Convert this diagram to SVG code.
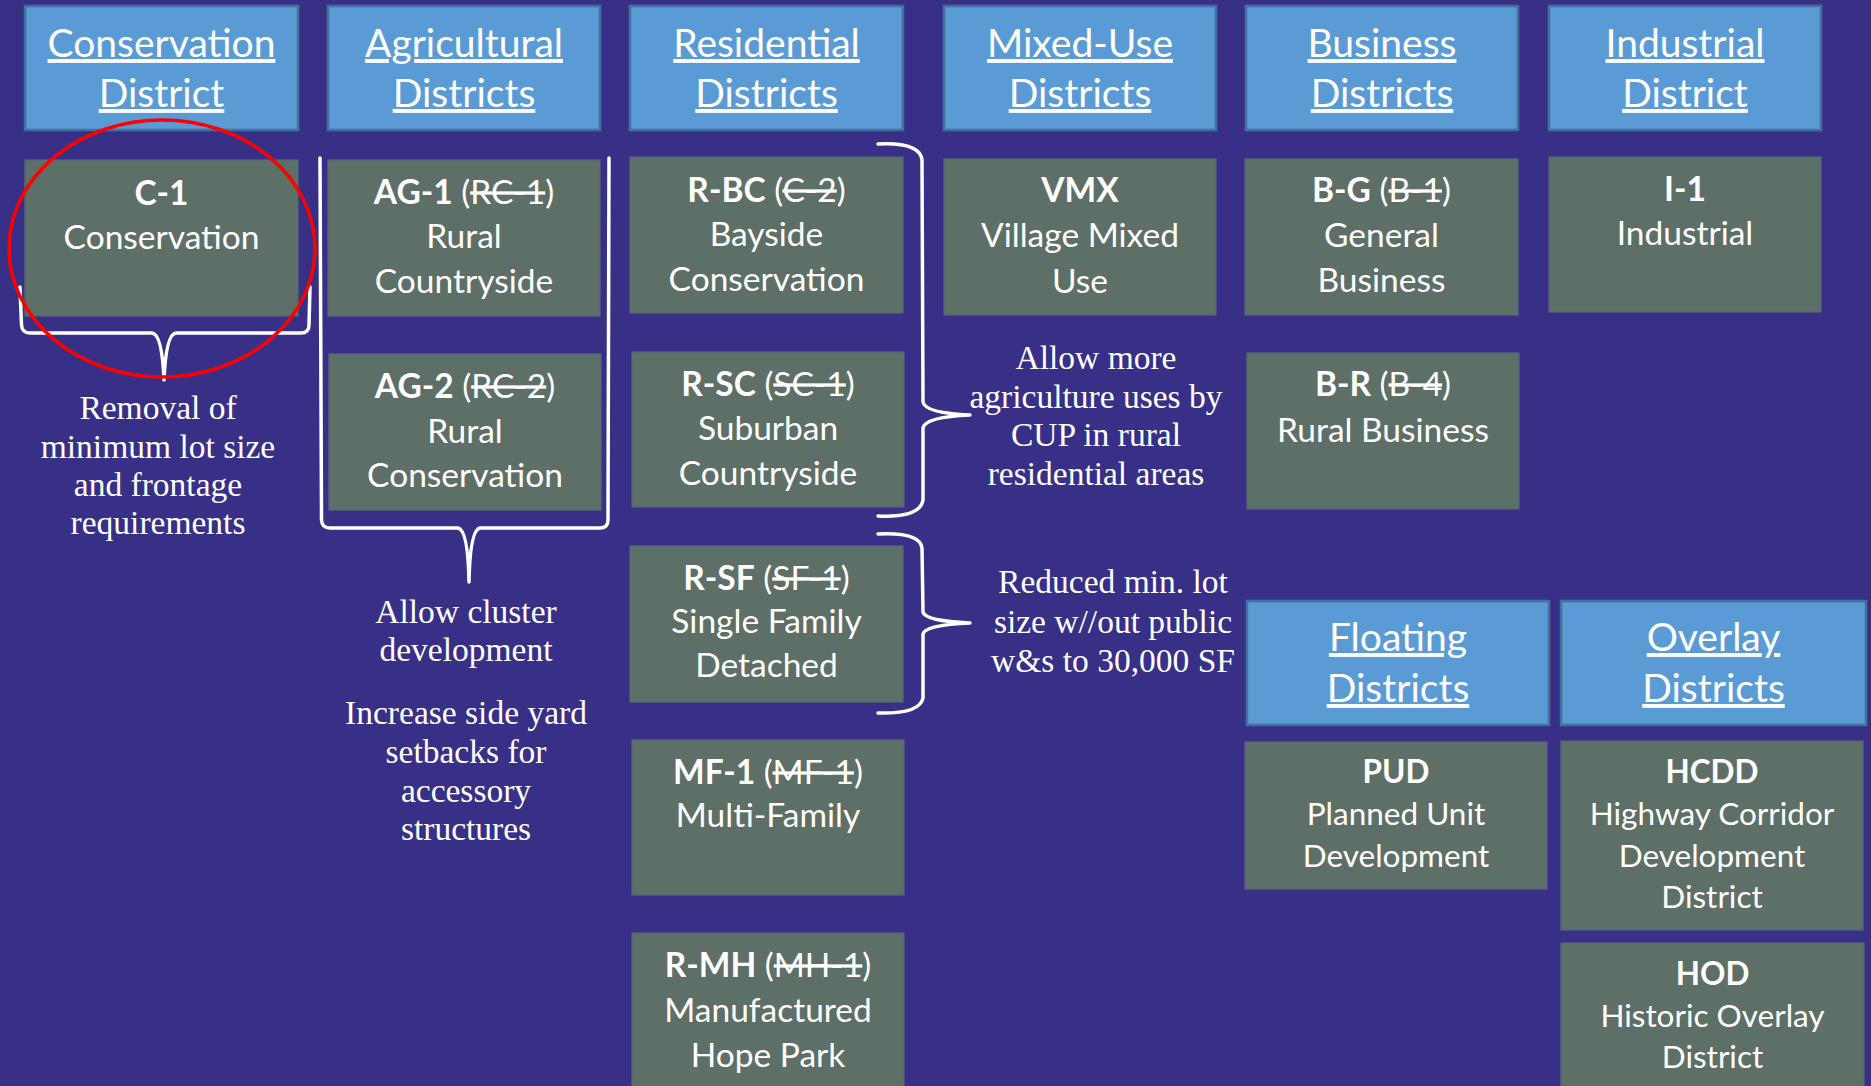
<svg xmlns="http://www.w3.org/2000/svg" width="1871" height="1086" viewBox="0 0 1871 1086">
<style>
.hdr{fill:#5B9BD5;stroke:#41719C;stroke-width:2.5}
.box{fill:#5E6F67;stroke:#56677a;stroke-width:1.2}
.ht{font-family:Lato,"Open Sans",sans-serif;font-size:39px;fill:#fff;text-anchor:middle;text-decoration:underline}
.nt{font-family:Lato,"Open Sans",sans-serif;font-size:33.5px;fill:#fff;text-anchor:middle}
.nt2{font-family:Lato,"Open Sans",sans-serif;font-size:31.5px;fill:#fff;text-anchor:middle}
.b{font-weight:bold}
.s{text-decoration:line-through}
.an{font-family:"Liberation Serif","Times New Roman",serif;font-size:33.5px;fill:#fff;text-anchor:middle}
.br{fill:none;stroke:#fff;stroke-width:3.5;stroke-linecap:round;stroke-linejoin:round}
</style>
<rect x="0" y="0" width="1871" height="1086" fill="#383087"/>

<g id="hdr-conservation"><rect class="hdr" x="25" y="6" width="273" height="124"/><text class="ht" x="161.5" y="57">Conservation</text><text class="ht" x="161.5" y="107">District</text></g>
<g id="hdr-agricultural"><rect class="hdr" x="328" y="6" width="272" height="124"/><text class="ht" x="464" y="57">Agricultural</text><text class="ht" x="464" y="107">Districts</text></g>
<g id="hdr-residential"><rect class="hdr" x="630" y="6" width="273" height="124"/><text class="ht" x="766.5" y="57">Residential</text><text class="ht" x="766.5" y="107">Districts</text></g>
<g id="hdr-mixeduse"><rect class="hdr" x="944" y="6" width="272" height="124"/><text class="ht" x="1080" y="57">Mixed-Use</text><text class="ht" x="1080" y="107">Districts</text></g>
<g id="hdr-business"><rect class="hdr" x="1246" y="6" width="272" height="124"/><text class="ht" x="1382" y="57">Business</text><text class="ht" x="1382" y="107">Districts</text></g>
<g id="hdr-industrial"><rect class="hdr" x="1549" y="6" width="272" height="124"/><text class="ht" x="1685" y="57">Industrial</text><text class="ht" x="1685" y="107">District</text></g>
<g id="hdr-floating"><rect class="hdr" x="1247" y="601" width="302" height="124"/><text class="ht" x="1398" y="651">Floating</text><text class="ht" x="1398" y="702">Districts</text></g>
<g id="hdr-overlay"><rect class="hdr" x="1561" y="601" width="305" height="124"/><text class="ht" x="1713.5" y="651">Overlay</text><text class="ht" x="1713.5" y="702">Districts</text></g>

<g id="node-c1"><rect class="box" x="25" y="160" width="273" height="156"/><text class="nt b" x="161.5" y="205">C-1</text><text class="nt" x="161.5" y="249">Conservation</text></g>
<g id="node-ag1"><rect class="box" x="328" y="160" width="272" height="156"/><text class="nt" x="464" y="204"><tspan class="b">AG-1</tspan> (<tspan class="s">RC-1</tspan>)</text><text class="nt" x="464" y="248">Rural</text><text class="nt" x="464" y="293">Countryside</text></g>
<g id="node-ag2"><rect class="box" x="329" y="354" width="272" height="156"/><text class="nt" x="465" y="398"><tspan class="b">AG-2</tspan> (<tspan class="s">RC-2</tspan>)</text><text class="nt" x="465" y="443">Rural</text><text class="nt" x="465" y="487">Conservation</text></g>
<g id="node-rbc"><rect class="box" x="630" y="157" width="273" height="156"/><text class="nt" x="766.5" y="202"><tspan class="b">R-BC</tspan> (<tspan class="s">C-2</tspan>)</text><text class="nt" x="766.5" y="246">Bayside</text><text class="nt" x="766.5" y="291">Conservation</text></g>
<g id="node-rsc"><rect class="box" x="632" y="352" width="272" height="155"/><text class="nt" x="768" y="396"><tspan class="b">R-SC</tspan> (<tspan class="s">SC-1</tspan>)</text><text class="nt" x="768" y="440">Suburban</text><text class="nt" x="768" y="485">Countryside</text></g>
<g id="node-rsf"><rect class="box" x="630" y="546" width="273" height="156"/><text class="nt" x="766.5" y="590"><tspan class="b">R-SF</tspan> (<tspan class="s">SF-1</tspan>)</text><text class="nt" x="766.5" y="633">Single Family</text><text class="nt" x="766.5" y="677">Detached</text></g>
<g id="node-mf1"><rect class="box" x="632" y="740" width="272" height="155"/><text class="nt" x="768" y="784"><tspan class="b">MF-1</tspan> (<tspan class="s">MF-1</tspan>)</text><text class="nt" x="768" y="827">Multi-Family</text></g>
<g id="node-rmh"><rect class="box" x="632" y="933" width="272" height="160"/><text class="nt" x="768" y="977"><tspan class="b">R-MH</tspan> (<tspan class="s">MH-1</tspan>)</text><text class="nt" x="768" y="1022">Manufactured</text><text class="nt" x="768" y="1067">Hope Park</text></g>
<g id="node-vmx"><rect class="box" x="944" y="159" width="272" height="156"/><text class="nt b" x="1080" y="202">VMX</text><text class="nt" x="1080" y="247">Village Mixed</text><text class="nt" x="1080" y="293">Use</text></g>
<g id="node-bg"><rect class="box" x="1245" y="159" width="273" height="156"/><text class="nt" x="1381.5" y="202"><tspan class="b">B-G</tspan> (<tspan class="s">B-1</tspan>)</text><text class="nt" x="1381.5" y="247">General</text><text class="nt" x="1381.5" y="292">Business</text></g>
<g id="node-br"><rect class="box" x="1247" y="353" width="272" height="156"/><text class="nt" x="1383" y="396"><tspan class="b">B-R</tspan> (<tspan class="s">B-4</tspan>)</text><text class="nt" x="1383" y="442">Rural Business</text></g>
<g id="node-i1"><rect class="box" x="1549" y="157" width="272" height="155"/><text class="nt b" x="1685" y="201">I-1</text><text class="nt" x="1685" y="245">Industrial</text></g>
<g id="node-pud"><rect class="box" x="1245" y="742" width="302" height="147"/><text class="nt2 b" x="1396" y="783">PUD</text><text class="nt2" x="1396" y="825">Planned Unit</text><text class="nt2" x="1396" y="867">Development</text></g>
<g id="node-hcdd"><rect class="box" x="1561" y="741" width="302" height="189"/><text class="nt2 b" x="1712" y="783">HCDD</text><text class="nt2" x="1712" y="825">Highway Corridor</text><text class="nt2" x="1712" y="867">Development</text><text class="nt2" x="1712" y="908">District</text></g>
<g id="node-hod"><rect class="box" x="1561" y="943" width="303" height="150"/><text class="nt2 b" x="1712.5" y="985">HOD</text><text class="nt2" x="1712.5" y="1027">Historic Overlay</text><text class="nt2" x="1712.5" y="1068">District</text></g>

<g id="connectors">
<path class="br" d="M 20 287 L 21.5 325 Q 22 333 30 333 L 152 333 Q 162 334 164 380 Q 166 334 176 333 L 301 333 Q 309 333 309 325 L 310 287"/>
<path class="br" d="M 320 158 L 321.5 520 Q 322 528 330 528 L 458 528 Q 468 530 469 582 Q 470 530 480 528 L 600 528 Q 608 528 608 520 L 609 158"/>
<path class="br" d="M 878 144 Q 920 142 922 160 L 923 402 Q 925 413 970 415 Q 925 417 923 428 L 923 500 Q 920 518 878 516"/>
<path class="br" d="M 878 534 Q 920 532 922 548 L 923 612 Q 925 621 970 623 Q 925 625 923 634 L 923 698 Q 920 714 878 713"/>
</g>

<g id="annotations">
<text class="an" x="158" y="419">Removal of</text>
<text class="an" x="158" y="457.5">minimum lot size</text>
<text class="an" x="158" y="496">and frontage</text>
<text class="an" x="158" y="534">requirements</text>
<text class="an" x="466" y="623">Allow cluster</text>
<text class="an" x="466" y="661">development</text>
<text class="an" x="466" y="724">Increase side yard</text>
<text class="an" x="466" y="763">setbacks for</text>
<text class="an" x="466" y="802">accessory</text>
<text class="an" x="466" y="840">structures</text>
<text class="an" x="1096" y="369">Allow more</text>
<text class="an" x="1096" y="407.5">agriculture uses by</text>
<text class="an" x="1096" y="446">CUP in rural</text>
<text class="an" x="1096" y="485">residential areas</text>
<text class="an" x="1113" y="593">Reduced min. lot</text>
<text class="an" x="1113" y="633">size w//out public</text>
<text class="an" x="1113" y="672">w&amp;s to 30,000 SF</text>
</g>

<g id="highlight">
<ellipse cx="162" cy="248.5" rx="153" ry="128.5" fill="none" stroke="#FF0000" stroke-width="3.5"/>
</g>
</svg>
